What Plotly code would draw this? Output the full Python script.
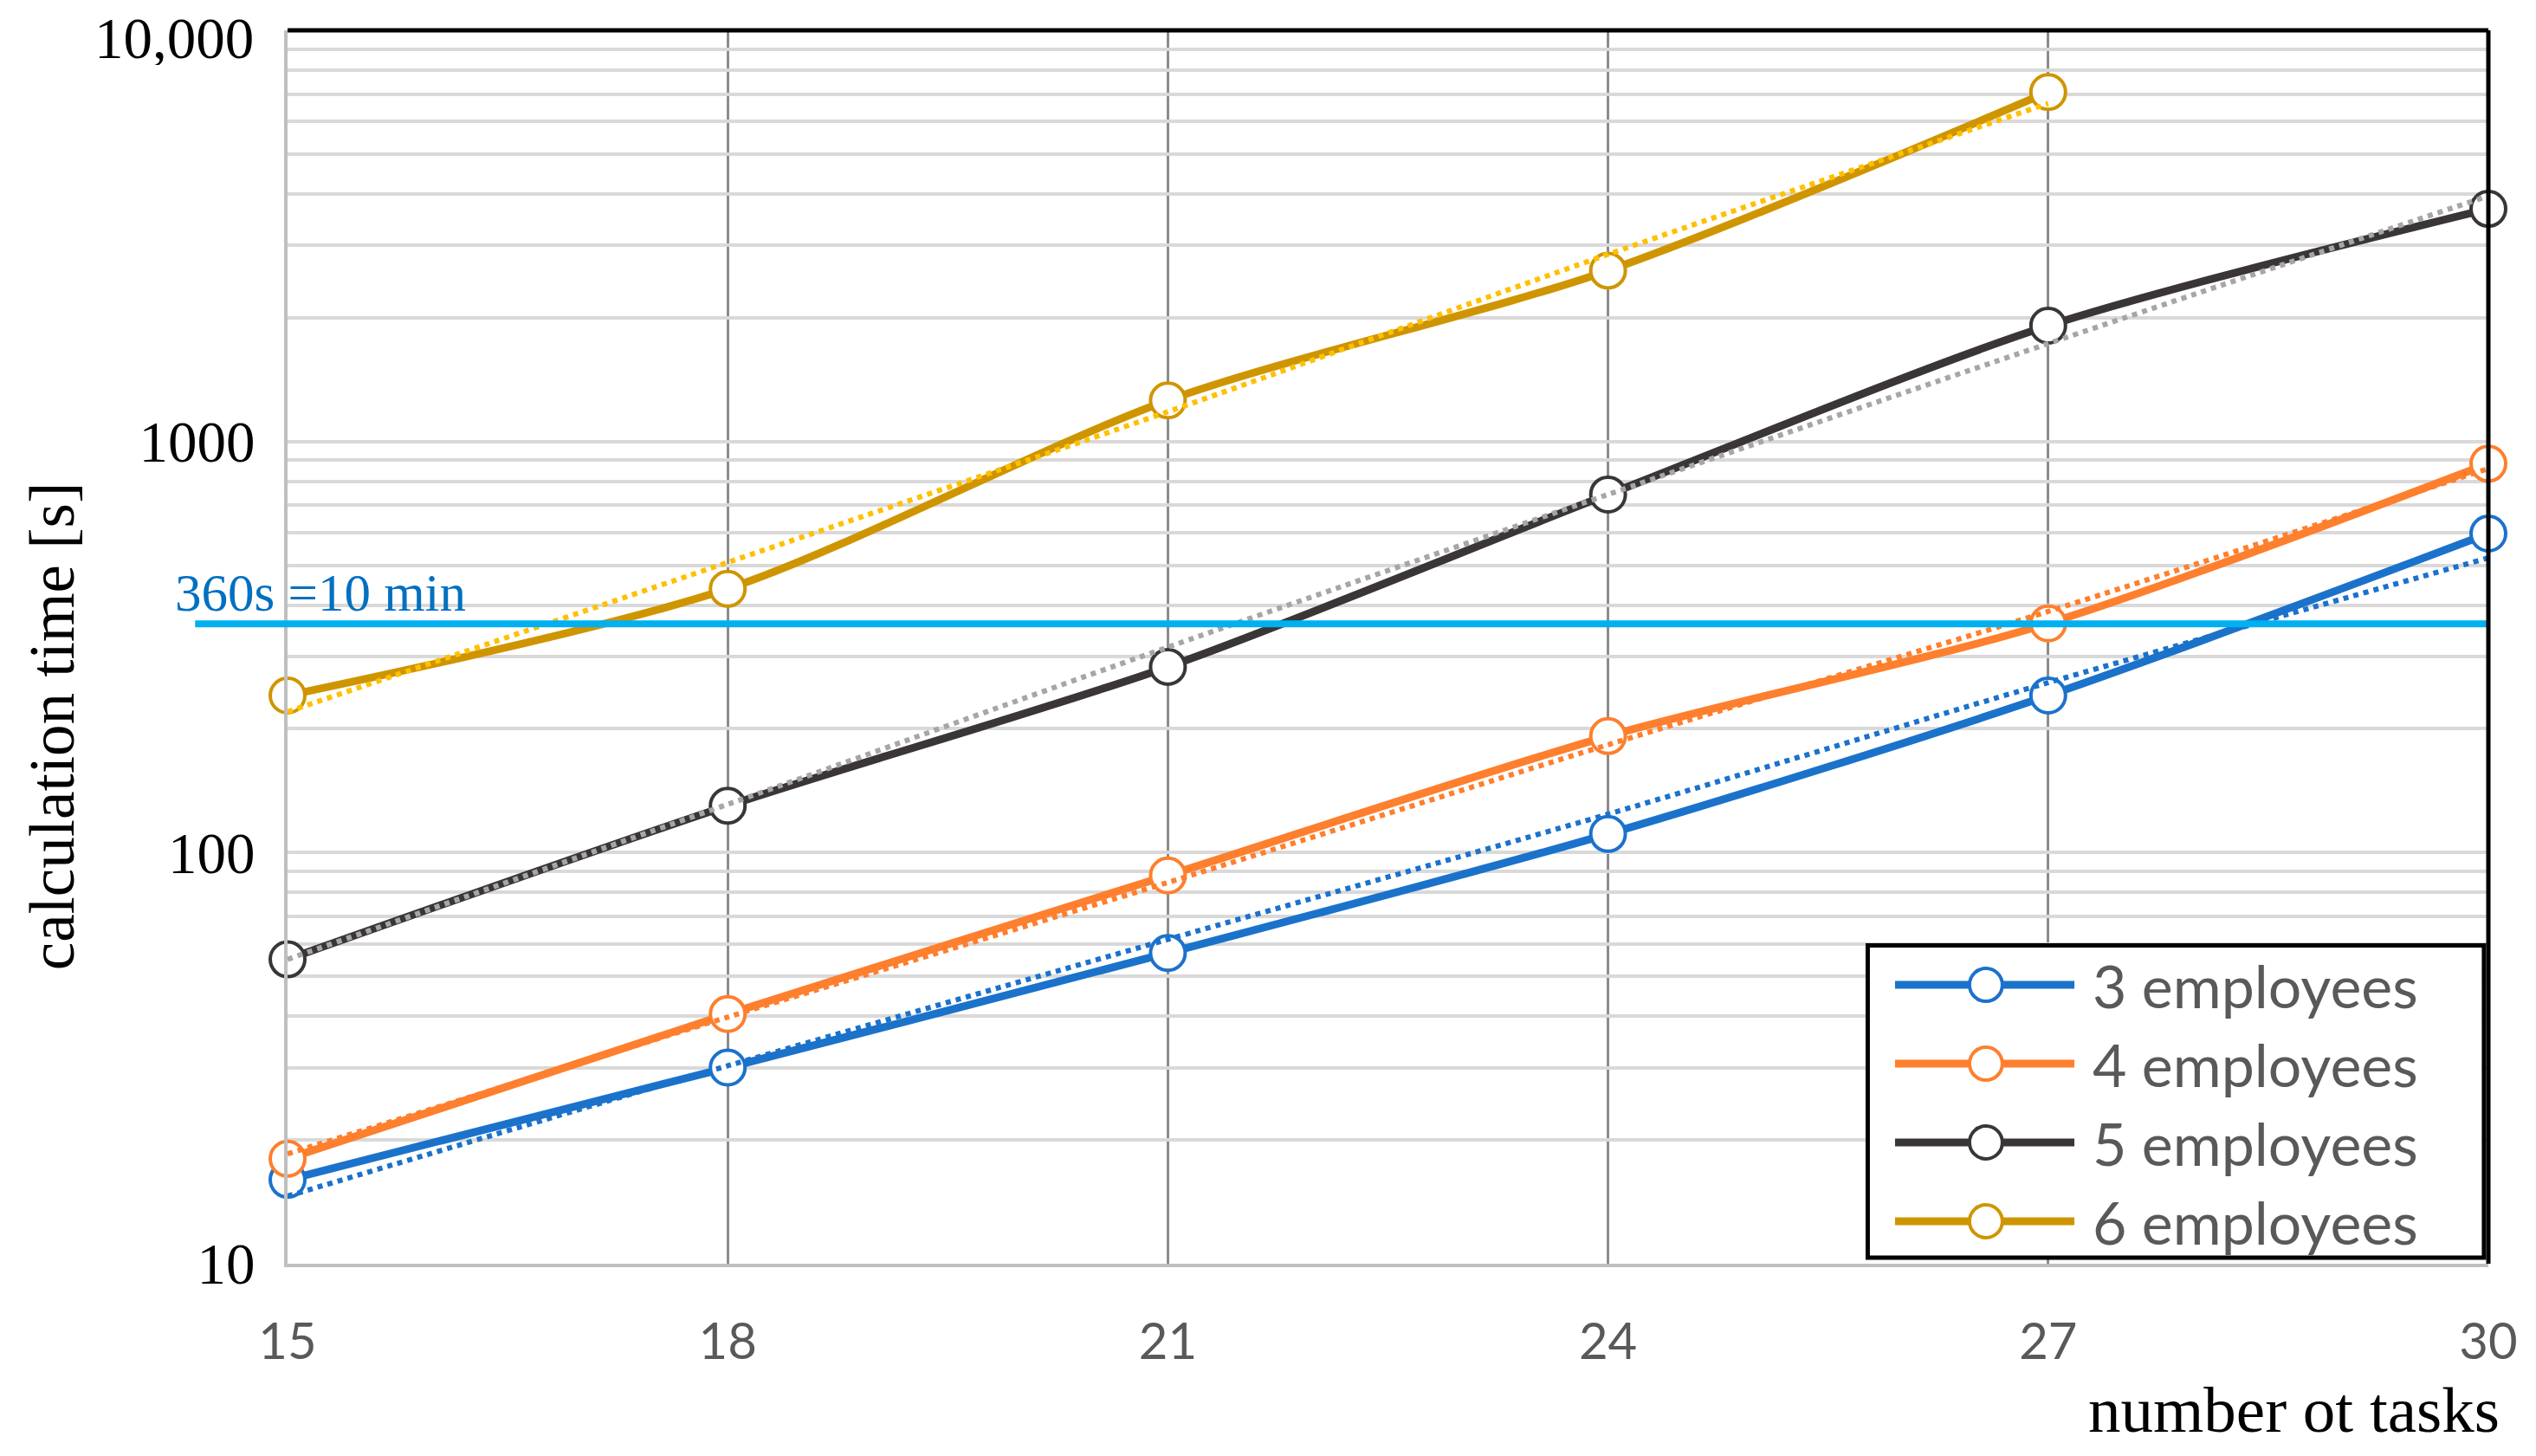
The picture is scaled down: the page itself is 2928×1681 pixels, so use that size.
import math
import plotly.graph_objects as go

# number of tasks
tasks = [15, 18, 21, 24, 27, 30]

# measured calculation time [s]
time_3 = [16, 30, 57, 111, 241, 597]
time_4 = [18, 40.5, 88, 192, 361, 883]
time_5 = [55, 130, 283, 743, 1912, 3680]
time_6 = [241, 438, 1259, 2604, 7079]

# trend lines (dotted)
trend_3 = [14.6, 30.3, 61.5, 124, 259, 521]
trend_4 = [18.5, 39.8, 84.6, 183, 386, 859]
trend_5 = [55, 131, 316, 743, 1730, 3955]
trend_6 = [220, 508, 1181, 2851, 6640]

names = ["3 employees", "4 employees", "5 employees", "6 employees"]
limit_s = 360
limit_text = "360s =10 min"

y_max = 10000
y_tickvals = [m * 10 ** e for e in range(1, 4) for m in range(1, 10)] + [y_max]
y_labels = {10: "10", 100: "100", 1000: "1000", 10000: "10,000"}
# top label is drawn separately (would be cut at the page edge otherwise)
y_ticktext = [y_labels.get(v, "") if v != y_max else "" for v in y_tickvals]

colors = ["#1B72CB", "#FE7F2D", "#3A3636", "#CF9500"]
trend_colors = ["#1B72CB", "#FE7F2D", "#A6A6A6", "#FFC000"]

serif = "Liberation Serif"
sans = "Lato"

fig = go.Figure()

series = [time_3, time_4, time_5, time_6]
trends = [trend_3, trend_4, trend_5, trend_6]

for name, vals, col in zip(names, series, colors):
    fig.add_trace(go.Scatter(
        x=tasks[:len(vals)], y=vals, name=name,
        mode="lines+markers",
        line=dict(color=col, width=9, shape="spline", smoothing=0.8),
        marker=dict(size=40, color="white", line=dict(color=col, width=4)),
        cliponaxis=False, showlegend=False,
    ))

for vals, col in zip(trends, trend_colors):
    fig.add_trace(go.Scatter(
        x=tasks[:len(vals)], y=vals, mode="lines", showlegend=False,
        line=dict(color=col, width=6, dash="dot", shape="spline", smoothing=0.8),
        hoverinfo="skip",
    ))

# 360 s threshold
fig.add_shape(type="line", xref="paper", yref="y", x0=-0.042, x1=1,
              y0=limit_s, y1=limit_s, line=dict(color="#00B0F0", width=8))
fig.add_annotation(text=limit_text, xref="paper", yref="y", x=-0.052,
                   y=math.log10(limit_s), xanchor="left", yanchor="bottom",
                   showarrow=False, font=dict(family=serif, size=61, color="#0070C0"))

# top tick label
fig.add_annotation(text=y_labels[y_max], xref="paper", yref="y", x=-0.0145,
                   y=math.log10(y_max), xanchor="right", yanchor="top", yshift=24,
                   height=62, valign="middle",
                   showarrow=False, font=dict(family=serif, size=67, color="black"))

# black top / right frame
fig.add_shape(type="line", xref="paper", yref="paper", x0=0, x1=1, y0=1, y1=1,
              line=dict(color="black", width=5), layer="above")
fig.add_shape(type="line", xref="paper", yref="paper", x0=1, x1=1, y0=0, y1=1,
              line=dict(color="black", width=5), layer="above")

# legend box drawn by hand (Excel style: long line sample with big open circle)
fig.add_shape(type="rect", xref="paper", yref="paper", x0=0.718, x1=0.998, y0=0.005, y1=0.258,
              line=dict(color="black", width=5), fillcolor="white", layer="above")
for i, (name, col) in enumerate(zip(names, colors)):
    yy = 0.2261 - i * 0.0639
    fig.add_shape(type="line", xref="paper", yref="paper", x0=0.7304, x1=0.8119, y0=yy, y1=yy,
                  line=dict(color=col, width=9), layer="above")
    fig.add_shape(type="circle", xref="paper", yref="paper", xsizemode="pixel", ysizemode="pixel",
                  xanchor=0.7717, yanchor=yy, x0=-19, x1=19, y0=-19, y1=19,
                  line=dict(color=col, width=4), fillcolor="white", layer="above")
    fig.add_annotation(text=name, xref="paper", yref="paper", x=0.8195, y=yy,
                       xanchor="left", yanchor="middle", showarrow=False,
                       font=dict(family=sans, size=68, color="#595959"))

fig.add_annotation(text="number ot tasks", xref="paper", yref="paper", x=1.006, y=-0.118,
                   xanchor="right", yanchor="middle", showarrow=False,
                   font=dict(family=serif, size=75, color="black"))
fig.add_annotation(text="calculation time [s]", xref="paper", yref="paper", x=-0.107, y=0.436,
                   xanchor="center", yanchor="middle", textangle=-90, showarrow=False,
                   font=dict(family=serif, size=73, color="black"))

fig.update_layout(
    width=2928, height=1681,
    margin=dict(l=324, r=63, t=27, b=230),
    plot_bgcolor="white", paper_bgcolor="white",
    xaxis=dict(
        range=[15, 30], tickvals=tasks, showgrid=True, gridcolor="#8C8C8C", gridwidth=3,
        showline=True, linecolor="#BFBFBF", linewidth=4, zeroline=False, automargin=False,
        tickfont=dict(family=sans, size=58, color="#595959"), ticklabelstandoff=36,
        ticklabeloverflow="allow",
    ),
    yaxis=dict(
        type="log", range=[1, 4], tickvals=y_tickvals, ticktext=y_ticktext,
        showgrid=True, gridcolor="#D9D9D9", gridwidth=4, automargin=False,
        showline=True, linecolor="#BFBFBF", linewidth=4, zeroline=False,
        tickfont=dict(family=serif, size=67, color="black"), ticklabelstandoff=20,
        ticklabeloverflow="allow",
    ),
    showlegend=False,
)

fig.write_html("out.html")
